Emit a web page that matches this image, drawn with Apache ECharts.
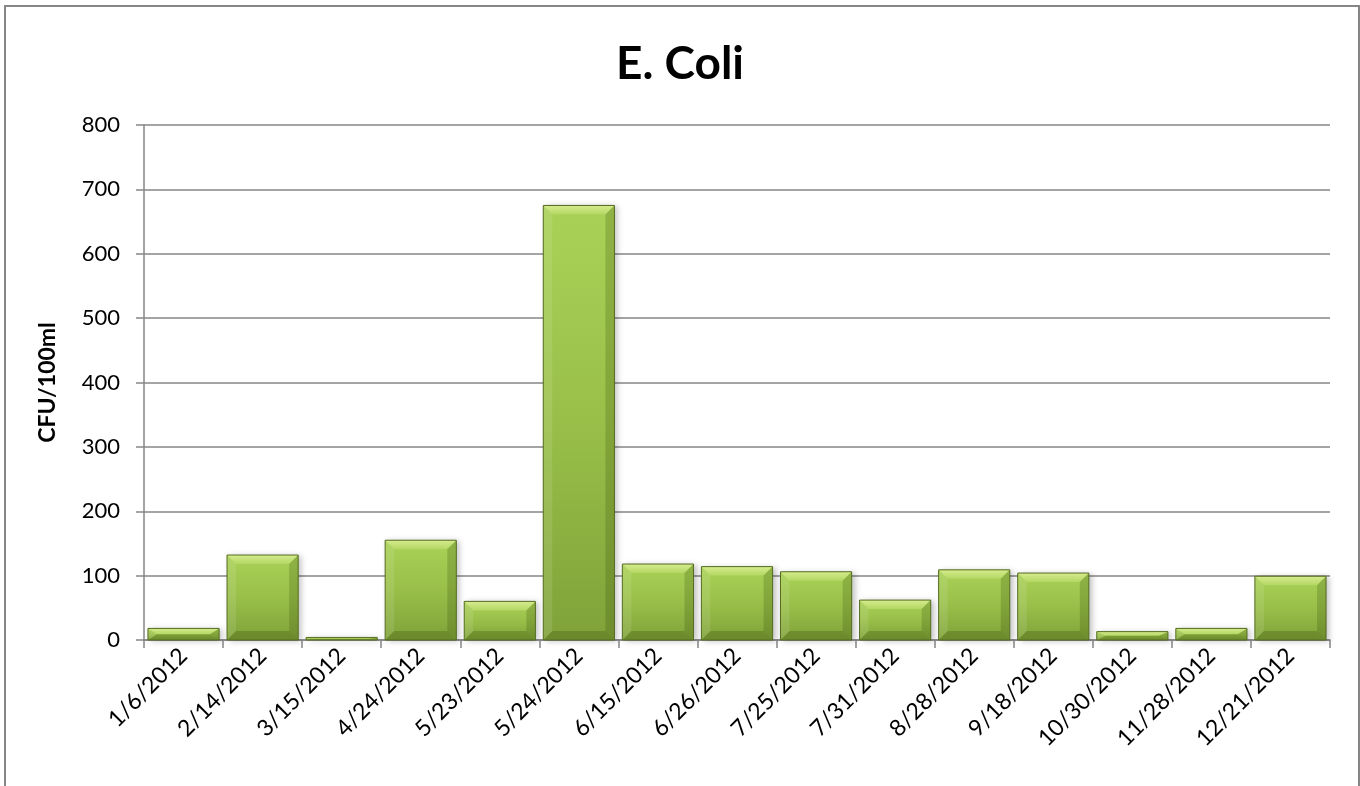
<!DOCTYPE html>
<html>
<head>
<meta charset="utf-8">
<script src="https://cdn.jsdelivr.net/npm/echarts@6/dist/echarts.min.js"></script>
<style>
html,body{margin:0;padding:0;background:#fff;}
#c{width:1360px;height:786px;}
</style>
</head>
<body>
<div id="c"></div>
<script>
const titleText = 'E. Coli';
const yAxisName = 'CFU/100ml';
const categories = ['1/6/2012','2/14/2012','3/15/2012','4/24/2012','5/23/2012','5/24/2012','6/15/2012','6/26/2012','7/25/2012','7/31/2012','8/28/2012','9/18/2012','10/30/2012','11/28/2012','12/21/2012'];
const values = [18,132,4,155,60,675,118,114,106,62,109,104,13,18,99];
const yMin = 0, yMax = 800, yInterval = 100;

const chart = echarts.init(document.getElementById('c'));

function renderBar(params, api) {
  const idx = api.value(0), val = api.value(1);
  const topPt = api.coord([idx, val]);
  const basePt = api.coord([idx, 0]);
  const bw = api.size([1, 0])[0] * 0.9;
  const l = topPt[0] - bw / 2, r = topPt[0] + bw / 2;
  const t = topPt[1], b = basePt[1];
  const h = Math.max(b - t, 1);
  const bv = Math.min(9, h / 2), bx = Math.min(9, bw / 2);
  return {
    type: 'group',
    children: [
      { type: 'rect', shape: { x: l, y: t, width: bw, height: h },
        style: { fill: new echarts.graphic.LinearGradient(0, 0, 0, 1, [
          { offset: 0, color: '#aad157' }, { offset: 0.5, color: '#99bf49' }, { offset: 1, color: '#80a239' }]),
          shadowBlur: 6, shadowColor: 'rgba(0,0,0,0.25)', shadowOffsetX: 3, shadowOffsetY: 1 } },
      { type: 'polygon', shape: { points: [[l, t], [r, t], [r - bx, t + bv], [l + bx, t + bv]] },
        style: { fill: new echarts.graphic.LinearGradient(0, 0, 0, 1, [
          { offset: 0, color: '#d6ec8e' }, { offset: 1, color: '#b3d763' }]) } },
      { type: 'polygon', shape: { points: [[l, t], [l + bx, t + bv], [l + bx, b - bv], [l, b]] },
        style: { fill: 'rgba(255,255,255,0.10)' } },
      { type: 'polygon', shape: { points: [[r, t], [r - bx, t + bv], [r - bx, b - bv], [r, b]] },
        style: { fill: 'rgba(40,60,0,0.20)' } },
      { type: 'polygon', shape: { points: [[l, b], [l + bx, b - bv], [r - bx, b - bv], [r, b]] },
        style: { fill: 'rgba(40,60,0,0.24)' } },
      { type: 'rect', shape: { x: l, y: t, width: bw, height: h },
        style: { fill: 'none', stroke: '#556c22', lineWidth: 1 } }
    ]
  };
}

chart.setOption({
  animation: false,
  backgroundColor: '#fff',
  title: {
    text: titleText, left: 'center', top: 36,
    textStyle: { fontFamily: 'Lato', fontWeight: 'bold', fontSize: 46, color: '#000' }
  },
  graphic: [{
    type: 'rect', shape: { x: 5, y: 6, width: 1354, height: 800 },
    style: { fill: 'none', stroke: '#868686', lineWidth: 2 }, silent: true, z: 100
  }],
  grid: { left: 144, right: 30, top: 125, bottom: 146 },
  xAxis: {
    type: 'category', data: categories,
    axisLine: { lineStyle: { color: '#868686', width: 1.5 } },
    axisTick: { show: true, length: 8, alignWithLabel: false, lineStyle: { color: '#868686', width: 1.5 } },
    axisLabel: { rotate: 45, fontFamily: 'Lato', fontSize: 23, color: '#000', margin: 12, interval: 0 }
  },
  yAxis: {
    type: 'value', min: yMin, max: yMax, interval: yInterval,
    name: yAxisName, nameLocation: 'middle', nameGap: 85, nameRotate: 90,
    nameTextStyle: { fontFamily: 'Lato', fontWeight: 'bold', fontSize: 23, color: '#000' },
    axisLine: { show: true, lineStyle: { color: '#868686', width: 1.5 } },
    axisTick: { show: true, inside: false, length: 8, lineStyle: { color: '#868686', width: 1.5 } },
    axisLabel: { fontFamily: 'Lato', fontSize: 22, color: '#000', margin: 24 },
    splitLine: { show: true, lineStyle: { color: '#868686', width: 1.5 } }
  },
  series: [{
    type: 'custom',
    renderItem: renderBar,
    encode: { x: 0, y: 1 },
    data: values.map((v, i) => [i, v]),
    z: 3
  }]
});
</script>
</body>
</html>
